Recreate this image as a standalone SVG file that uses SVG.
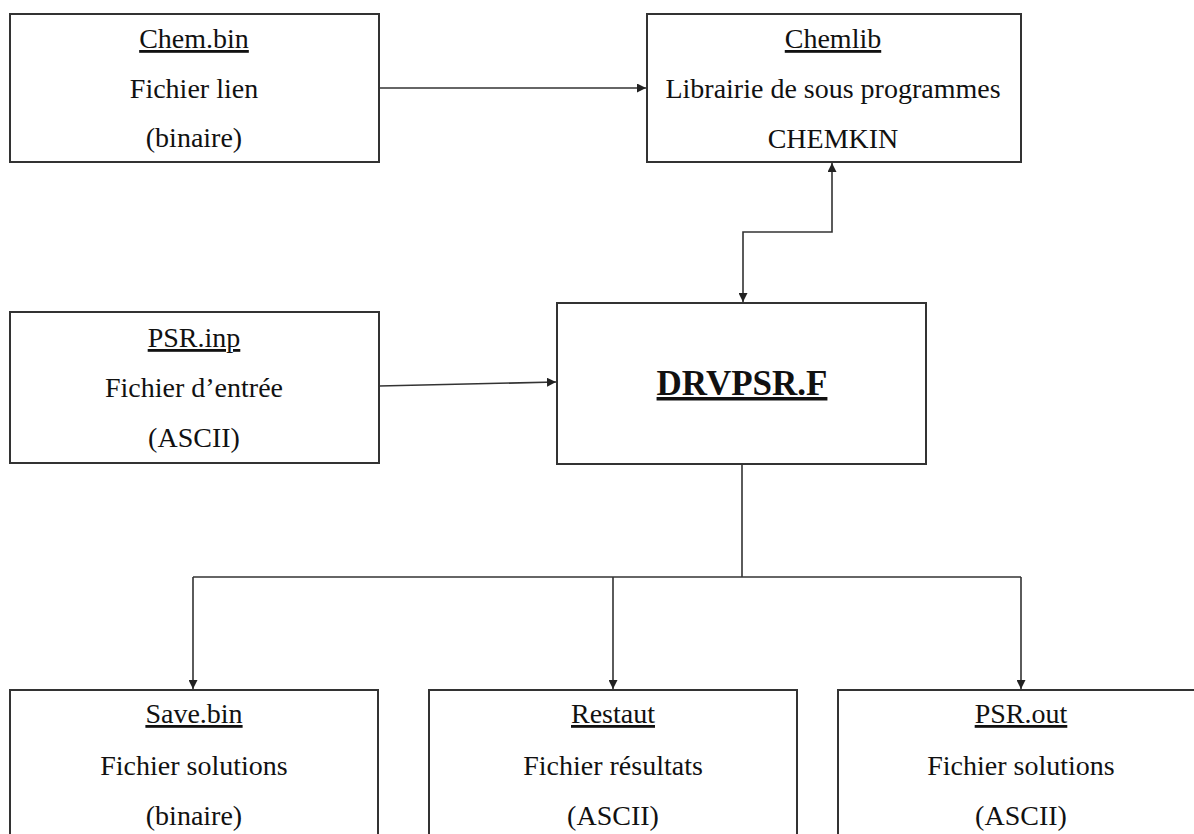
<svg xmlns="http://www.w3.org/2000/svg" width="1194" height="834" viewBox="0 0 1194 834">
<style>
.box{fill:#fff;stroke:#333;stroke-width:2}
.t{font-family:"Liberation Serif","Times New Roman",serif;font-size:28px;fill:#111;text-anchor:middle}
.u{text-decoration:underline}
.big{font-size:35px;font-weight:bold}
.c{fill:none;stroke:#333;stroke-width:1.6}
</style>
<defs>
<marker id="ah" viewBox="0 0 10 10" refX="10" refY="5" markerWidth="9" markerHeight="9" markerUnits="userSpaceOnUse" orient="auto-start-reverse">
<path d="M0,0 L10,5 L0,10 Z" fill="#222"/>
</marker>
</defs>
<rect width="1194" height="834" fill="#fff"/>
<g id="chembin">
<rect class="box" x="10" y="14" width="369" height="148"/>
<text class="t u" x="194" y="48">Chem.bin</text>
<text class="t" x="194" y="98">Fichier lien</text>
<text class="t" x="194" y="147">(binaire)</text>
</g>
<g id="chemlib">
<rect class="box" x="647" y="14" width="374" height="148"/>
<text class="t u" x="833" y="48">Chemlib</text>
<text class="t" x="833" y="98">Librairie de sous programmes</text>
<text class="t" x="833" y="148">CHEMKIN</text>
</g>
<g id="psrinp">
<rect class="box" x="10" y="312" width="369" height="151"/>
<text class="t u" x="194" y="347">PSR.inp</text>
<text class="t" x="194" y="397">Fichier d’entrée</text>
<text class="t" x="194" y="447">(ASCII)</text>
</g>
<g id="drvpsr">
<rect class="box" x="557" y="303" width="369" height="161"/>
<text class="t big u" x="742" y="395">DRVPSR.F</text>
</g>
<g id="savebin">
<rect class="box" x="10" y="690" width="368" height="160"/>
<text class="t u" x="194" y="723">Save.bin</text>
<text class="t" x="194" y="775">Fichier solutions</text>
<text class="t" x="194" y="825">(binaire)</text>
</g>
<g id="restaut">
<rect class="box" x="429" y="690" width="368" height="160"/>
<text class="t u" x="613" y="723">Restaut</text>
<text class="t" x="613" y="775">Fichier résultats</text>
<text class="t" x="613" y="825">(ASCII)</text>
</g>
<g id="psrout">
<rect class="box" x="838" y="690" width="380" height="160"/>
<text class="t u" x="1021" y="723">PSR.out</text>
<text class="t" x="1021" y="775">Fichier solutions</text>
<text class="t" x="1021" y="825">(ASCII)</text>
</g>
<g id="connectors">
<path class="c" d="M379,88 L646,88" marker-end="url(#ah)"/>
<path class="c" d="M832,163 L832,232 L743,232 L743,302" marker-start="url(#ah)" marker-end="url(#ah)"/>
<path class="c" d="M379,386 L556,382" marker-end="url(#ah)"/>
<path class="c" d="M742,464 L742,577"/>
<path class="c" d="M193,577 L1021,577"/>
<path class="c" d="M193,577 L193,689" marker-end="url(#ah)"/>
<path class="c" d="M613,577 L613,689" marker-end="url(#ah)"/>
<path class="c" d="M1021,577 L1021,689" marker-end="url(#ah)"/>
</g>
</svg>
